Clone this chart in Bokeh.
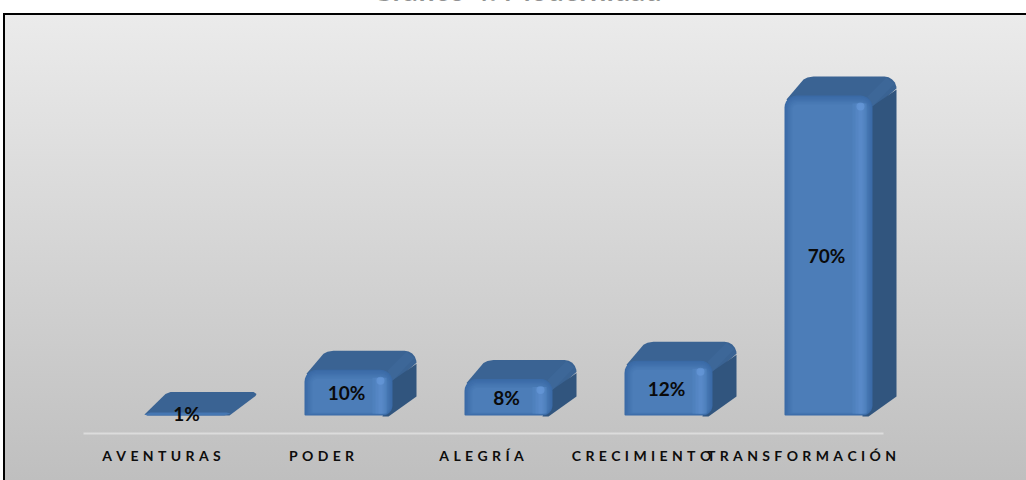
import math
from bokeh.plotting import figure
from bokeh.models import ColumnDataSource, FixedTicker, Label
from bokeh.core.properties import value
from bokeh.embed import file_html
from bokeh.resources import INLINE

categories = ["AVENTURAS", "PODER", "ALEGRÍA", "CRECIMIENTO", "TRANSFORMACIÓN"]
percent_values = [1, 10, 8, 12, 70]
percent_labels = ["1%", "10%", "8%", "12%", "70%"]
chart_title = "Gráfico 4: Modernidad"

# scale of the picture: pixels per category and per percentage point
PXX, PXY = 160.0, 4.57
W, H, FRAME_B, BASE = 1026, 480, 433, 415
X0 = 161.0
GAP = "\u2009\u2009\u200a"


def spaced(s):
    return GAP.join(s)


def lerp(c1, c2, t):
    a = [int(c1[i:i + 2], 16) for i in (1, 3, 5)]
    b = [int(c2[i:i + 2], 16) for i in (1, 3, 5)]
    return "#%02x%02x%02x" % tuple(round(u + (v - u) * t) for u, v in zip(a, b))


def arc(cx, cy, r, a0, a1, n=6):
    return [(cx + r * math.cos(math.radians(a0 + (a1 - a0) * k / n)),
             cy + r * math.sin(math.radians(a0 + (a1 - a0) * k / n))) for k in range(n + 1)]


def round_rect(l, t, r, b, rtl, rtr, rbr, rbl):
    pts = []
    pts += arc(l + rtl, t + rtl, rtl, 180, 270)
    pts += arc(r - rtr, t + rtr, rtr, 270, 360)
    pts += arc(r - rbr, b - rbr, rbr, 0, 90)
    pts += arc(l + rbl, b - rbl, rbl, 90, 180)
    return pts


xs, ys, fills = [], [], []


def add(i, pts, color):
    # pts: (pixel offset from the category's position, pixel offset from the value baseline)
    xs.append([i + px / PXX for px, _ in pts])
    ys.append([py / PXY for _, py in pts])
    fills.append(color)


DEPTH_X, DEPTH_Y, HALF, SHIFT = 24, 19, 44, 27
hx, hy = [], []
for i, v in enumerate(percent_values):
    h = v * PXY
    l, r = SHIFT - HALF, SHIFT + HALF
    rad = min(12, h / 2)
    e = min(10, h)
    if h > 20:
        # top face, with soft back corners
        top = [(l + 2, h - 4), (l + DEPTH_X - 5, h + DEPTH_Y - 3), (l + DEPTH_X - 1, h + DEPTH_Y - 1),
               (l + DEPTH_X + 5, h + DEPTH_Y)]
        top += [(r + DEPTH_X - 12 + 12 * math.cos(math.radians(a)), h + DEPTH_Y - 12 + 12 * math.sin(math.radians(a)))
                for a in (90, 70, 50, 30, 10, 0)]
        top += [(r, h - 14), (l + 12, h - 14)]
        add(i, top, "#3a6393")
        # side face
        add(i, [(r - 2, h - 12), (r + DEPTH_X, h + DEPTH_Y - 13),
                (r + DEPTH_X, DEPTH_Y), (r - 4, -1), (r - 10, -1)], "#31557e")
        # bevel band between top and side
        add(i, [(r - 5, h - 1), (r + 14, h + DEPTH_Y - 1), (r + 22, h + DEPTH_Y - 7), (r, h - 11)], "#3d6798")
        # front face: nested shapes from the edge colour to the face colour
        steps = 7
        for k in range(steps + 1):
            t = k / steps
            il, it, ir, ib = 8 * t, 9 * t, 7 * t, 3 * t
            rr = max(rad * (1 - 0.6 * t), 2)
            shape = round_rect(l + il, -(h - it), r - ir, -ib, rr, rr, 2 + 8 * (1 - t), 1)
            add(i, [(x, -y) for x, y in shape], lerp("#3a6aa6", "#4c7db8", t))
        # lighter strip near the right edge
        for off, wid, col in ((20, 14, "#4f81bd"), (17, 9, "#5485c3"), (14, 4, "#5889c8")):
            add(i, [(r - off, 2), (r - off + wid, 2), (r - off + wid, h - 8), (r - off, h - 8)], col)
        hx.append(i + (r - 12) / PXX)
        hy.append((h - 11) / PXY)
    else:
        # a very low bar is nearly only its top face
        add(i, [(l, 1), (l + DEPTH_X - 3, h + DEPTH_Y - 2), (l + DEPTH_X + 2, h + DEPTH_Y),
                (r + DEPTH_X - 3, h + DEPTH_Y), (r + DEPTH_X, h + DEPTH_Y - 2), (r + DEPTH_X - 1, h + DEPTH_Y - 4),
                (r - 3, 0), (l + 3, 0)], "#3a6393")
        add(i, [(l, 1), (l + 3, 0), (r - 8, 0), (r - 2, 2), (r - 6, 3), (l + 6, 3)], "#4677b2")

p = figure(width=W, height=H, toolbar_location=None, output_backend="svg",
           x_range=((0 - X0) / PXX, (W - X0) / PXX),
           y_range=((BASE - FRAME_B) / PXY, BASE / PXY),
           y_axis_location=None, min_border_left=0, min_border_right=0,
           min_border_top=0, min_border_bottom=H - FRAME_B,
           background_fill_alpha=0, border_fill_alpha=0, outline_line_color=None,
           tools="")
p.styles = {
    "background": "linear-gradient(#ebebeb,#bfbfbf) 5px 15px / 100% 465px no-repeat,"
                  "linear-gradient(#000,#000) 3px 13px / 100% 467px no-repeat",
}
p.grid.visible = False

p.patches(xs, ys, fill_color=fills, line_color=None)
p.scatter(hx, hy, size=8, fill_color="#6fa2e4", fill_alpha=0.45, line_color=None)

ax = p.xaxis[0]
ax.ticker = FixedTicker(ticks=list(range(len(categories))))
ax.major_label_overrides = {i: spaced(c) for i, c in enumerate(categories)}
ax.bounds = (-0.5 + 2 / PXX, len(categories) - 0.5 + 2 / PXX)
ax.axis_line_color = "#dcdcdc"
ax.axis_line_width = 2
ax.major_tick_line_color = None
ax.minor_tick_line_color = None
ax.major_label_standoff = 7
ax.major_label_text_font = "Lato"
ax.major_label_text_font_style = "bold"
ax.major_label_text_font_size = "14px"
ax.major_label_text_color = "#0d0d0d"

src = ColumnDataSource(dict(
    x=[i + (SHIFT - 2) / PXX for i in range(len(percent_values))],
    y=[v / 2 for v in percent_values],
    t=percent_labels,
))
p.text("x", "y", text="t", source=src, text_align="center", text_baseline="middle",
       text_font=value("Lato"), text_font_style="bold", text_font_size="19px", text_color="#0a0a0a")

p.add_layout(Label(x=(516 - X0) / PXX, y=(BASE + 11) / PXY, text=chart_title, text_align="center",
                   text_baseline="alphabetic", text_font="Lato", text_font_style="bold",
                   text_font_size="29px", text_color="#333333"))

open("out.html", "w").write(file_html(p, INLINE))
